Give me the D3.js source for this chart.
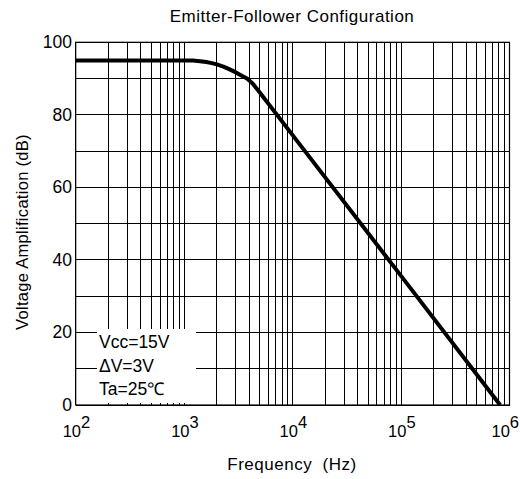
<!DOCTYPE html>
<html><head><meta charset="utf-8">
<script src="https://cdn.jsdelivr.net/npm/d3@7"></script>
<style>body{margin:0;background:#fff}svg{display:block;font-family:"Liberation Sans",Arial,sans-serif}</style>
</head><body>
<svg id="c" width="520" height="479"></svg>
<script>
const freqs = [100, 1000, 1200, 1400, 1600, 1800, 2000, 2300, 2600, 3000, 3400, 3800, 4300, 5000, 10000, 100000, 820000];
const gainDb = [95, 95, 94.95, 94.8, 94.55, 94.25, 93.9, 93.3, 92.6, 91.7, 90.8, 90.0, 88.6, 86.1, 74.4, 35.6, 0];
const yTicks = [0, 20, 40, 60, 80, 100];
const yGrid = [0, 10, 20, 30, 40, 50, 60, 70, 80, 90, 100];
const xDecades = [2, 3, 4, 5, 6];
const legendLines = ["Vcc=15V", "\u0394V=3V", "Ta=25\u2103"];

const svg = d3.select("#c");
const L = 75.7, R = 509.5, T = 42.3, B = 405;
const x = d3.scaleLog().domain([1e2, 1e6]).range([L, R]);
const y = d3.scaleLinear().domain([0, 100]).range([B, T]);

// grid
const g = svg.append("g").attr("stroke", "#000").attr("stroke-width", 1).attr("shape-rendering", "crispEdges");
const vlines = [];
for (let d = 2; d < 6; d++) for (let m = 1; m <= 10; m++) vlines.push(m * Math.pow(10, d));
g.selectAll("line.v").data(vlines).join("line").attr("class", "v")
  .attr("x1", d => x(d)).attr("x2", d => x(d)).attr("y1", T).attr("y2", B);
g.selectAll("line.h").data(yGrid).join("line").attr("class", "h")
  .attr("x1", L).attr("x2", R).attr("y1", d => y(d)).attr("y2", d => y(d));

// frame
svg.append("rect").attr("x", L).attr("y", T).attr("width", R - L).attr("height", B - T)
  .attr("fill", "none").attr("stroke", "#000").attr("stroke-width", 1.2);

// curve
const line = d3.line().x((d, i) => x(freqs[i])).y(d => y(d)).curve(d3.curveLinear);
svg.append("path").datum(gainDb).attr("d", line).attr("fill", "none")
  .attr("stroke", "#000").attr("stroke-width", 4).attr("stroke-linejoin", "round");

// legend box
svg.append("rect").attr("x", 97).attr("y", 329).attr("width", 99).attr("height", 74).attr("fill", "#fff");
svg.append("g").selectAll("text").data(legendLines).join("text")
  .attr("x", 99).attr("y", (d, i) => 348 + i * 23.5).attr("font-size", 17.5).text(d => d);

// y ticks
svg.append("g").selectAll("text").data(yTicks).join("text")
  .attr("x", 72).attr("y", d => y(d) + 6).attr("text-anchor", "end").attr("font-size", 17.5).text(d => d);

// x ticks
const xt = svg.append("g").selectAll("text").data(xDecades).join("text")
  .attr("x", d => x(Math.pow(10, d)) - (d === 6 ? 18 : 13)).attr("y", 437).attr("font-size", 16.5);
xt.append("tspan").text("10");
xt.append("tspan").attr("dy", -9).text(d => d);

// titles
svg.append("text").attr("x", 292).attr("y", 22).attr("text-anchor", "middle").attr("font-size", 17)
  .attr("letter-spacing", 0.5).text("Emitter-Follower Configuration");
svg.append("text").attr("x", 292).attr("y", 470).attr("text-anchor", "middle").attr("font-size", 17)
  .attr("letter-spacing", 0.5).attr("xml:space", "preserve").text("Frequency  (Hz)");
svg.append("text").attr("transform", "translate(28,232) rotate(-90)").attr("text-anchor", "middle")
  .attr("font-size", 16.5).attr("letter-spacing", 0.3).text("Voltage Amplification (dB)");
</script>
</body></html>
